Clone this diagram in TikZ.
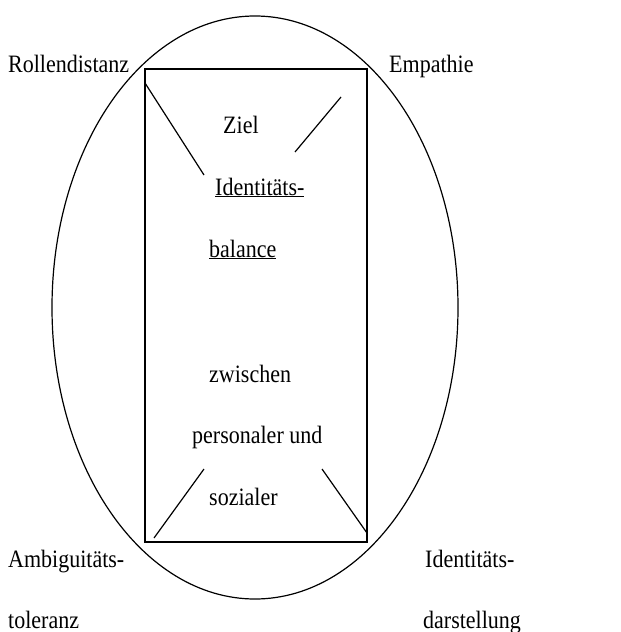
\documentclass[tikz,border=0pt]{standalone}
\usepackage{fontspec}
\setmainfont[FakeStretch=0.88]{Liberation Serif}
\usetikzlibrary{shapes.geometric}

\begin{document}
\begin{tikzpicture}[x=1pt, y=-1pt, every node/.style={font=\fontsize{25}{29}\selectfont, inner sep=0pt}, word/.style={anchor=base west}]
	\useasboundingbox (0,0) rectangle (621,632);
	\node[draw, ellipse, line width=1.2pt, minimum width=406pt, minimum height=583pt] (oval) at (255,307.5) {};
	\node[draw, rectangle, line width=1.7pt, minimum width=222pt, minimum height=473pt] (box) at (256,305.5) {};
	% corner labels
	\node[word] (rollen) at (8,72) {Rollendistanz};
	\node[word] (empathie) at (389,72) {Empathie};
	\node[word] (ambig) at (8,567) {Ambiguitäts-};
	\node[word] (toleranz) at (8,628) {toleranz};
	\node[word] (ident) at (425,567) {Identitäts-};
	\node[word] (darst) at (423,628) {darstellung};
	% text in the box
	\node[word] (ziel) at (223,133) {Ziel};
	\node[word] (idbal) at (215,195) {\underline{Identitäts-}};
	\node[word] (balance) at (209,257) {\underline{balance}};
	\node[word] (zwischen) at (209,382) {zwischen};
	\node[word] (personal) at (192,443) {personaler und};
	\node[word] (sozial) at (209,505) {sozialer};
	% diagonals
	\coordinate (tla) at (145,83);
	\coordinate (tlb) at (204,175);
	\coordinate (tra) at (341,97);
	\coordinate (trb) at (295,152);
	\coordinate (bla) at (154,538);
	\coordinate (blb) at (204,469);
	\coordinate (bra) at (367,533);
	\coordinate (brb) at (322,469);
	\draw[line width=1.2pt] (tla) -- (tlb);
	\draw[line width=1.2pt] (tra) -- (trb);
	\draw[line width=1.2pt] (bla) -- (blb);
	\draw[line width=1.2pt] (bra) -- (brb);
\end{tikzpicture}
\end{document}
